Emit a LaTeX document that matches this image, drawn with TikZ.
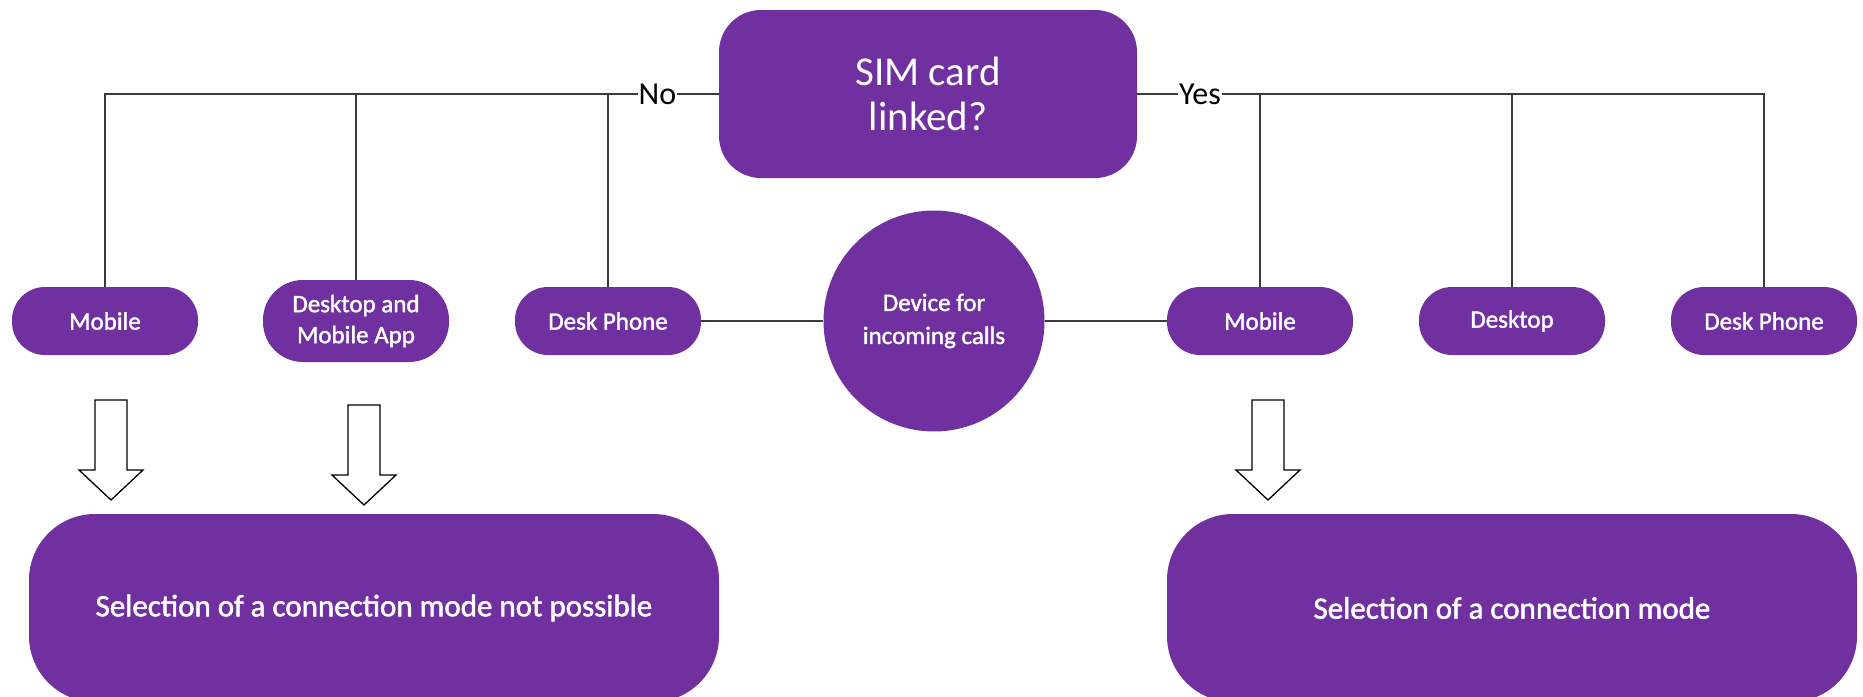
\documentclass[tikz,border=0pt]{standalone}
\usepackage{fontspec}
\setmainfont{Carlito}
\newfontfamily\semib{Carlito}[FakeBold=1.6]
\definecolor{purp}{HTML}{7030A0}
\definecolor{linec}{HTML}{3A3A3A}
\tikzset{
  pill/.style={fill=purp,text=white,align=center,inner sep=0pt,
    rounded corners=33,minimum width=186,minimum height=68,
    font=\semib\fontsize{25}{31}\selectfont},
  bigbox/.style={fill=purp,text=white,align=center,inner sep=0pt,
    rounded corners=66,minimum width=690,minimum height=188,
    font=\semib\fontsize{31}{37}\selectfont},
  conn/.style={draw=linec,line width=1.8pt},
  lbl/.style={fill=white,inner sep=1pt,text=black,font=\fontsize{32}{36}\selectfont},
  pics/hollowdown/.style={code={
    \draw[black,line width=1.3pt,fill=white,line join=miter]
      (-16,0) -- (16,0) -- (16,70) -- (32,70) -- (0,100) -- (-32,70) -- (-16,70) -- cycle;}}
}
\begin{document}
\begin{tikzpicture}[x=1pt,y=-1pt]
\useasboundingbox (0,0) rectangle (1863,696);
\clip (0,0) rectangle (1863,696);
\fill[white] (0,0) rectangle (1863,696);

% decision box
\node[fill=purp,text=white,align=center,inner sep=0pt,rounded corners=42,
  minimum width=418,minimum height=168,font=\fontsize{41}{45}\selectfont]
  (sim) at (928,94) {SIM card\\linked?};

% left devices
\node[pill] (lm) at (105,321) {Mobile};
\node[pill,minimum height=82,rounded corners=40] (ld) at (356,321) {Desktop and\\Mobile App};
\node[pill] (lp) at (608,321) {Desk Phone};

% centre circle
\node[circle,fill=purp,text=white,align=center,inner sep=0pt,minimum size=221,
  font=\semib\fontsize{25}{33}\selectfont] (dev) at (934,321) {Device for\\incoming calls};

% right devices
\node[pill] (rm) at (1260,321) {Mobile};
\node[pill] (rd) at (1512,321) {Desktop};
\node[pill] (rp) at (1764,321) {Desk Phone};

% result boxes
\node[bigbox] (lres) at (374,608) {Selection of a connection mode not possible};
\node[bigbox] (rres) at (1512,608) {Selection of a connection mode};

% connectors from decision
\draw[conn] (sim.west) -- node[lbl,pos=0.1]{No} (lm.north |- sim.west) -- (lm.north);
\draw[conn] (ld.north |- sim.west) -- (ld.north);
\draw[conn] (lp.north |- sim.west) -- (lp.north);
\draw[conn] (sim.east) -- node[lbl,pos=0.1]{Yes} (rp.north |- sim.east) -- (rp.north);
\draw[conn] (rm.north |- sim.east) -- (rm.north);
\draw[conn] (rd.north |- sim.east) -- (rd.north);

% connectors through the circle
\draw[conn] (lp.east) -- (dev.west);
\draw[conn] (dev.east) -- (rm.west);

% hollow arrows
\pic at (111,400) {hollowdown};
\pic at (364,405) {hollowdown};
\pic at (1268,400) {hollowdown};
\end{tikzpicture}
\end{document}
